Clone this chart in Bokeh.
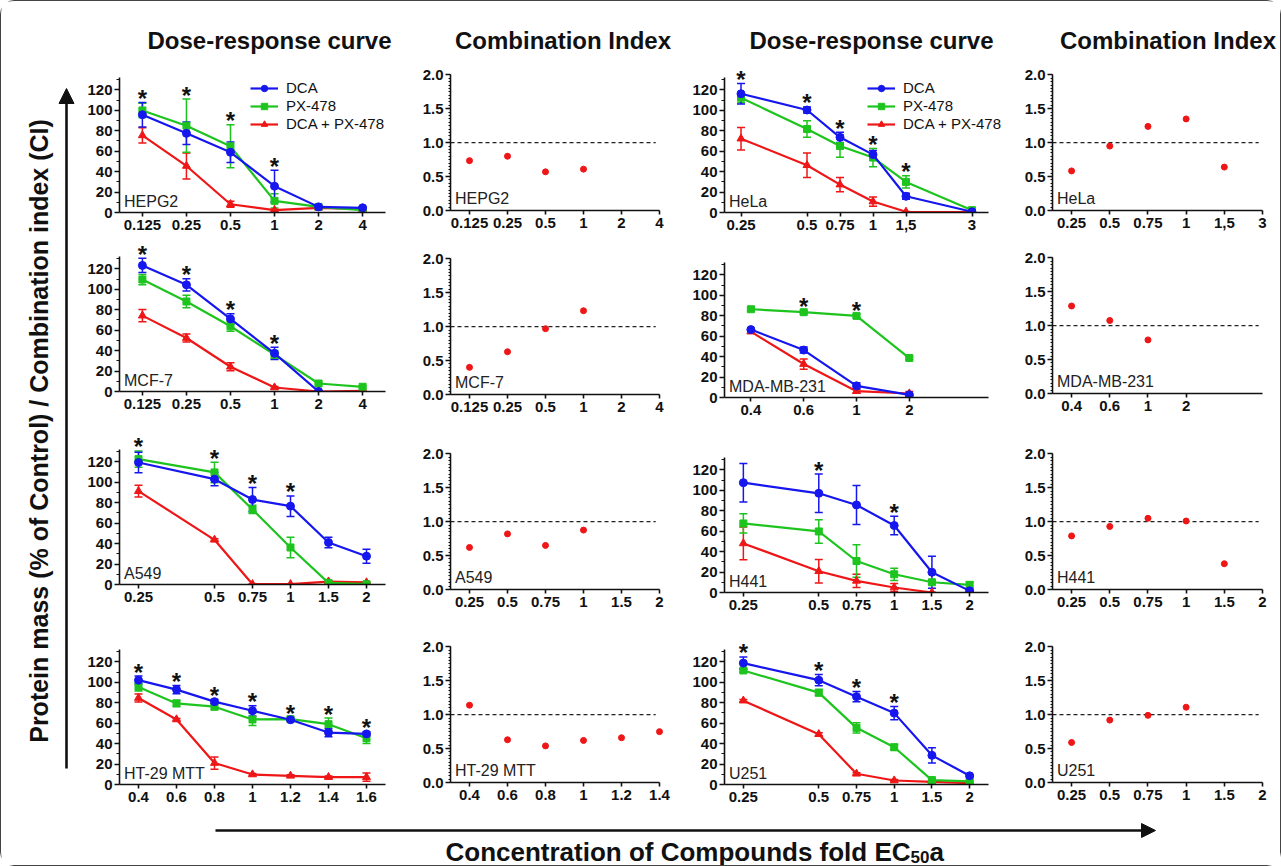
import math
from bokeh.plotting import figure
from bokeh.models import (Range1d, FixedTicker, SingleIntervalTicker, ColumnDataSource,
                          Whisker, TeeHead, Legend, LegendItem, Label, LabelSet,
                          Arrow, NormalHead, PrintfTickFormatter)
from bokeh.layouts import row, column
from bokeh.embed import file_html
from bokeh.resources import INLINE
from bokeh.core.properties import value

FONT = "Liberation Sans"
INK = "#111111"
BLUE = "#1616ee"
GREEN = "#1ec41e"
RED = "#ee1616"

# ------------------------------------------------------------------ data
# Dose-response: mean values and error (SD) per concentration
hepg2_conc = ["0.125", "0.25", "0.5", "1", "2", "4"]
hepg2_dca = [95.6, 77.4, 58.9, 25.7, 5.5, 4.6]
hepg2_dca_err = [12, 11, 10, 15.5, 1, 1]
hepg2_px = [99.8, 84.9, 64.7, 11.4, 5.5, 2.3]
hepg2_px_err = [7, 26, 21, 7, 1, 0.5]
hepg2_combo = [75.4, 45.5, 8.1, 2.3, 4.6, 3.3]
hepg2_combo_err = [7.5, 12.7, 3, 1, 1, 0.5]
hepg2_sig = ["0.125", "0.25", "0.5", "1"]

mcf7_conc = ["0.125", "0.25", "0.5", "1", "2", "4"]
mcf7_dca = [123.3, 104.3, 71, 37.3, 0]
mcf7_dca_err = [7, 6, 5, 6, 0.5]
mcf7_px = [109.5, 88, 63.8, 36, 7.8, 4.6]
mcf7_px_err = [5, 6, 5, 4, 1, 1]
mcf7_combo = [74.2, 52.3, 24.2, 3.9, 0, 0.7]
mcf7_combo_err = [6, 4, 4, 1, 0.3, 0.3]
mcf7_sig = ["0.125", "0.25", "0.5", "1"]

a549_conc = ["0.25", "0.5", "0.75", "1", "1.5", "2"]
a549_dca = [119.3, 103, 83.1, 76.6, 41.1, 27.7]
a549_dca_err = [10, 6.5, 11.7, 10, 5.2, 6.8]
a549_px = [122.6, 109.6, 73.4, 36.2, 1.6, 0.3]
a549_px_err = [8, 10, 4, 10, 0.5, 0.5]
a549_combo = [91.3, 43.7, 0.3, 0.3, 2.9, 2]
a549_combo_err = [5.7, 1, 0.5, 0.5, 0.5, 0.5]
a549_sig = ["0.25", "0.5", "0.75", "1"]

ht29_conc = ["0.4", "0.6", "0.8", "1", "1.2", "1.4", "1.6"]
ht29_dca = [102, 92.8, 81, 72.1, 63.3, 50.8, 49.5]
ht29_dca_err = [4, 4, 2, 5, 1, 4, 2]
ht29_px = [95.4, 79.3, 76.1, 63.6, 63.9, 59, 45.2]
ht29_px_err = [4, 3, 3, 6, 2, 6, 5]
ht29_combo = [84.6, 63.6, 21, 9.8, 8.5, 7.2, 7.2]
ht29_combo_err = [4, 1, 6, 1, 1, 1, 4]
ht29_sig = ["0.4", "0.6", "0.8", "1", "1.2", "1.4", "1.6"]

hela_conc = ["0.25", "0.5", "0.75", "1", "1,5", "3"]
hela_dca = [116.1, 100.2, 73.5, 56.6, 15.9, 0.7]
hela_dca_err = [10, 3, 5, 4, 3, 0.5]
hela_px = [112.2, 81.6, 65, 53.7, 29.9, 2.3]
hela_px_err = [5, 8, 11, 9, 6, 0.5]
hela_combo = [72.2, 46.2, 27.3, 10.7, 0.7, 0.5]
hela_combo_err = [11, 12, 7, 4.5, 0.3, 0.3]
hela_sig = ["0.25", "0.5", "0.75", "1", "1,5"]

mda_conc = ["0.4", "0.6", "1", "2"]
mda_dca = [66.4, 46.4, 11.4, 2.6]
mda_dca_err = [1, 3, 3, 1]
mda_px = [86.3, 83.4, 79.8, 38.6]
mda_px_err = [1.5, 1.5, 1.5, 1.5]
mda_combo = [64.4, 32.7, 6.2, 3.9]
mda_combo_err = [1.5, 5, 2, 2]
mda_sig = ["0.6", "1"]

h441_conc = ["0.25", "0.5", "0.75", "1", "1.5", "2"]
h441_dca = [107.4, 97, 85.6, 65.5, 19.8, 1.6]
h441_dca_err = [18.8, 18.8, 19, 9, 15.7, 1]
h441_px = [67.5, 59.7, 30.8, 17.8, 10, 7.5]
h441_px_err = [9.4, 11.5, 15.9, 6, 2, 3]
h441_combo = [48, 20.8, 11.4, 4.9, 0]
h441_combo_err = [16, 11.4, 6.5, 4, 0.3]
h441_sig = ["0.5", "1"]

u251_conc = ["0.25", "0.5", "0.75", "1", "1.5", "2"]
u251_dca = [118.7, 102, 85.9, 69.8, 28.5, 8.5]
u251_dca_err = [6, 5.5, 5, 6.5, 7.4, 1]
u251_px = [111.5, 89.8, 55.4, 36.4, 4.3, 3]
u251_px_err = [1.5, 3, 5, 3, 1, 1]
u251_combo = [82, 49.2, 10.5, 3.9, 2.6, 1.3]
u251_combo_err = [1, 1.5, 1, 1, 1, 1]
u251_sig = ["0.25", "0.5", "0.75", "1"]

# Category slot of each concentration on the (uneven) x axes
slots_even6 = [0, 1, 2, 3, 4, 5]
slots_even7 = [0, 1, 2, 3, 4, 5, 6]
slots_quarter = [0, 2, 3, 4, 5, 6]
slots_hela = [0, 2, 3, 4, 5, 7]
slots_mda = [0, 1, 2, 3]

# Combination index values
hepg2_ci_conc = ["0.125", "0.25", "0.5", "1", "2", "4"]
hepg2_ci = [0.735, 0.80, 0.57, 0.61]
mcf7_ci_conc = ["0.125", "0.25", "0.5", "1", "2", "4"]
mcf7_ci = [0.40, 0.63, 0.97, 1.235]
a549_ci_conc = ["0.25", "0.5", "0.75", "1", "1.5", "2"]
a549_ci = [0.62, 0.82, 0.65, 0.876]
ht29_ci_conc = ["0.4", "0.6", "0.8", "1", "1.2", "1.4"]
ht29_ci = [1.14, 0.63, 0.54, 0.62, 0.66, 0.75]
hela_ci_conc = ["0.25", "0.5", "0.75", "1", "1,5", "3"]
hela_ci = [0.584, 0.95, 1.24, 1.35, 0.64]
mda_ci_conc = ["0.4", "0.6", "1", "2"]
mda_ci = [1.29, 1.076, 0.79]
h441_ci_conc = ["0.25", "0.5", "0.75", "1", "1.5", "2"]
h441_ci = [0.79, 0.93, 1.05, 1.01, 0.38]
u251_ci_conc = ["0.25", "0.5", "0.75", "1", "1.5", "2"]
u251_ci = [0.59, 0.92, 0.99, 1.11]
CI_ADDITIVE = 1.0   # reference line: CI = 1 (additive effect)

dr_major = [0, 20, 40, 60, 80, 100, 120]
dr_minor = [10, 30, 50, 70, 90, 110, 130]

legend_labels = ["DCA", "PX-478", "DCA + PX-478"]
headers = ["Dose-response curve", "Combination Index", "Dose-response curve", "Combination Index"]
y_title = "Protein  mass (% of Control) / Combination index (CI)"
x_title = "Concentration of Compounds fold EC"

# ------------------------------------------------------------------ helpers
PX_PER_UNIT = 135 / 132      # dose-response vertical scale
CI_FRAME_H = 137


def style_axis(ax, tick_out, standoff):
    ax.axis_line_width = 1.6
    ax.axis_line_color = INK
    ax.major_tick_line_width = 1.6
    ax.major_tick_line_color = INK
    ax.minor_tick_line_color = INK
    ax.minor_tick_line_width = 1
    ax.major_tick_in = 0
    ax.minor_tick_in = 0
    ax.major_tick_out = tick_out
    ax.minor_tick_out = 3
    ax.major_label_standoff = standoff
    ax.major_label_text_font = FONT
    ax.major_label_text_font_style = "bold"
    ax.major_label_text_font_size = "15px"
    ax.major_label_text_color = INK


def base_fig(mbl, fw, mbr, height, mbt, frame_h, xr, yr):
    p = figure(width=mbl + fw + mbr, height=height, title=None,
               x_range=Range1d(*xr), y_range=Range1d(*yr),
               output_backend="svg", toolbar_location=None, frame_align=False,
               min_border_left=mbl, min_border_right=mbr,
               min_border_top=mbt, min_border_bottom=height - mbt - frame_h)
    p.outline_line_color = None
    p.xgrid.visible = False
    p.ygrid.visible = False
    style_axis(p.xaxis[0], 4, 3)
    style_axis(p.yaxis[0], 5, 2)
    return p


def dr_panel(name, conc, slots, xr, dca, dca_e, px, px_e, cb, cb_e, sig,
             geom, height, mbt, frame_h, legend_loc=None):
    mbl, fw, extra = geom
    # frame is widened by `extra` px on the right (room for the legend text);
    # the axis lines stay within the drawn extent of the original via bounds
    xend = xr[1] + extra * (xr[1] - xr[0]) / fw
    ytop = frame_h / PX_PER_UNIT
    p = base_fig(mbl, fw + extra, 0, height, mbt, frame_h, (xr[0], xend), (0, ytop))
    p.xaxis.ticker = FixedTicker(ticks=slots)
    p.xaxis.major_label_overrides = {s: c for s, c in zip(slots, conc)}
    p.xaxis.bounds = xr
    p.yaxis.ticker = FixedTicker(ticks=dr_major, minor_ticks=dr_minor)
    p.yaxis.bounds = (0, 132)

    series = [(legend_labels[2], cb, cb_e, RED, "triangle", 8),
              (legend_labels[1], px, px_e, GREEN, "square", 7),
              (legend_labels[0], dca, dca_e, BLUE, "circle", 8)]
    items = {}
    for lab, vals, errs, col, mk, sz in series:
        n = len(vals)
        src = ColumnDataSource(dict(x=slots[:n], y=vals,
                                    up=[v + e for v, e in zip(vals, errs)],
                                    lo=[v - e for v, e in zip(vals, errs)]))
        p.add_layout(Whisker(source=src, base="x", upper="up", lower="lo",
                             line_color=col, line_width=1.5,
                             upper_head=TeeHead(size=8, line_color=col, line_width=1.5),
                             lower_head=TeeHead(size=8, line_color=col, line_width=1.5)))
        lr = p.line("x", "y", source=src, line_color=col, line_width=2.2)
        sr = p.scatter("x", "y", source=src, marker=mk, size=sz,
                       fill_color=col, line_color=col)
        items[lab] = LegendItem(label=lab, renderers=[lr, sr])

    # significance stars above the highest error bar
    sx, sy = [], []
    for c in sig:
        i = conc.index(c)
        tops = [v[i] + e[i] for v, e in ((dca, dca_e), (px, px_e), (cb, cb_e)) if i < len(v)]
        sx.append(slots[i])
        sy.append(max(tops))
    ssrc = ColumnDataSource(dict(x=sx, y=sy, t=["*"] * len(sx)))
    p.add_layout(LabelSet(x="x", y="y", text="t", source=ssrc, y_offset=4,
                          text_align="center", text_baseline="middle",
                          text_font=value(FONT), text_font_style="bold",
                          text_font_size="24px", text_color=INK))

    p.add_layout(Label(x=xr[0], y=0, x_offset=4.5, y_offset=11, text=name,
                       text_font=FONT, text_font_size="16px", text_color="#222222",
                       text_baseline="middle"))

    if legend_loc is not None:
        lg = Legend(items=[items[l] for l in legend_labels], location=legend_loc,
                    label_text_font=FONT, label_text_font_size="15px",
                    label_text_color=INK, glyph_width=28, glyph_height=16,
                    label_height=16, spacing=1, padding=0, margin=0,
                    label_standoff=8, border_line_color=None,
                    background_fill_alpha=0)
        p.add_layout(lg)
    return p


def ci_panel(name, conc, vals, geom, height, mbt):
    mbl, fw, mbr = geom
    extra = 8   # frame slightly wider than the axis so the last dot is not clipped
    xr = (-0.5, 5)
    xend = xr[1] + extra * (xr[1] - xr[0]) / fw
    p = base_fig(mbl, fw + extra, mbr - extra, height, mbt, CI_FRAME_H,
                 (xr[0], xend), (0, 2.02))
    slots = list(range(len(conc)))
    p.xaxis.ticker = FixedTicker(ticks=slots)
    p.xaxis.major_label_overrides = {s: c for s, c in zip(slots, conc)}
    p.xaxis.bounds = xr
    p.yaxis.ticker = SingleIntervalTicker(interval=0.5, num_minor_ticks=10)
    p.yaxis.formatter = PrintfTickFormatter(format="%.1f")
    p.yaxis.bounds = (0, 2.0)
    p.yaxis.minor_tick_out = 2
    p.segment(x0=[xr[0]], y0=[CI_ADDITIVE], x1=[xr[1] - 0.1], y1=[CI_ADDITIVE],
              line_color="#222222", line_width=1.3, line_dash="4 3")
    p.scatter(slots[:len(vals)], vals, marker="circle", size=6,
              fill_color=RED, line_color=RED)
    p.add_layout(Label(x=xr[0], y=0, x_offset=4.5, y_offset=12, text=name,
                       text_font=FONT, text_font_size="16px", text_color="#222222",
                       text_baseline="middle"))
    return p


G1 = (44, 266, 20)   # col 1 dose-response: left border, axis width, extra right
G2 = (45, 209, 21)   # col 2 CI: left border, axis width, right border
G3 = (44, 264, 20)   # col 3 dose-response
G4 = (44, 210, 18)   # col 4 CI
X6 = (-0.52, 5.52)
X7 = (-0.5, 6.5)

H1, H2, H3, H4 = 175, 195, 193, 197

r1 = row(
    dr_panel("HEPG2", hepg2_conc, slots_even6, X6, hepg2_dca, hepg2_dca_err, hepg2_px,
             hepg2_px_err, hepg2_combo, hepg2_combo_err, hepg2_sig, G1, H1, 15, 135,
             legend_loc=(131, 80)),
    ci_panel("HEPG2", hepg2_ci_conc, hepg2_ci, G2, H1, 11),
    dr_panel("HeLa", hela_conc, slots_hela, (-0.5, 7.5), hela_dca, hela_dca_err, hela_px,
             hela_px_err, hela_combo, hela_combo_err, hela_sig, G3, H1, 7, 143,
             legend_loc=(143, 80)),
    ci_panel("HeLa", hela_ci_conc, hela_ci, G4, H1, 11),
)
r2 = row(
    dr_panel("MCF-7", mcf7_conc, slots_even6, X6, mcf7_dca, mcf7_dca_err, mcf7_px,
             mcf7_px_err, mcf7_combo, mcf7_combo_err, mcf7_sig, G1, H2, 0, 154),
    ci_panel("MCF-7", mcf7_ci_conc, mcf7_ci, G2, H2, 20),
    dr_panel("MDA-MB-231", mda_conc, slots_mda, (-0.5, 4.5), mda_dca, mda_dca_err, mda_px,
             mda_px_err, mda_combo, mda_combo_err, mda_sig, G3, H2, 25, 135),
    ci_panel("MDA-MB-231", mda_ci_conc, mda_ci, G4, H2, 19),
)
r3 = row(
    dr_panel("A549", a549_conc, slots_quarter, X7, a549_dca, a549_dca_err, a549_px,
             a549_px_err, a549_combo, a549_combo_err, a549_sig, G1, H3, 5, 147),
    ci_panel("A549", a549_ci_conc, a549_ci, G2, H3, 20),
    dr_panel("H441", h441_conc, slots_quarter, X7, h441_dca, h441_dca_err, h441_px,
             h441_px_err, h441_combo, h441_combo_err, h441_sig, G3, H3, 25, 135),
    ci_panel("H441", h441_ci_conc, h441_ci, G4, H3, 20),
)
r4 = row(
    dr_panel("HT-29 MTT", ht29_conc, slots_even7, X7, ht29_dca, ht29_dca_err, ht29_px,
             ht29_px_err, ht29_combo, ht29_combo_err, ht29_sig, G1, H4, 24, 135),
    ci_panel("HT-29 MTT", ht29_ci_conc, ht29_ci, G2, H4, 20),
    dr_panel("U251", u251_conc, slots_quarter, X7, u251_dca, u251_dca_err, u251_px,
             u251_px_err, u251_combo, u251_combo_err, u251_sig, G3, H4, 18, 141),
    ci_panel("U251", u251_ci_conc, u251_ci, G4, H4, 20),
)

W = 1279
LEFT_W = 74


def deco_fig(w, h):
    p = figure(width=w, height=h, x_range=Range1d(0, w), y_range=Range1d(0, h),
               output_backend="svg", toolbar_location=None, title=None,
               frame_align=False, x_axis_location=None, y_axis_location=None,
               min_border_left=0, min_border_right=0, min_border_top=0, min_border_bottom=0)
    p.outline_line_color = None
    p.xgrid.visible = False
    p.ygrid.visible = False
    return p


# header titles
hdr = deco_fig(W, 61)
hdr.text(x=[268, 561.5, 870, 1166.5], y=[22] * 4, text=headers,
         text_font=value(FONT), text_font_style="bold", text_font_size="24px",
         text_align="center", text_baseline="middle", text_color=INK)

# left strip: y title and vertical arrow
left = deco_fig(LEFT_W, 760)
left.add_layout(Arrow(end=NormalHead(size=15, fill_color=INK, line_color=INK),
                      x_start=65, y_start=54, x_end=65, y_end=734,
                      line_width=2.6, line_color=INK))
left.text(x=[37], y=[395], text=[y_title], angle=math.pi / 2,
          text_font=value(FONT), text_font_style="bold", text_font_size="25px",
          text_align="center", text_baseline="middle", text_color=INK)

# bottom strip: horizontal arrow and x title with subscript
bot = deco_fig(W, 43)
bot.add_layout(Arrow(end=NormalHead(size=14, fill_color=INK, line_color=INK),
                     x_start=214, y_start=35, x_end=1154, y_end=35,
                     line_width=2.6, line_color=INK))
bot.text(x=[444], y=[14], text=[x_title], text_font=value(FONT),
         text_font_style="bold", text_font_size="26px", text_align="left",
         text_baseline="middle", text_color=INK)
bot.text(x=[909.1], y=[9], text=["50"], text_font=value(FONT),
         text_font_style="bold", text_font_size="17px", text_align="left",
         text_baseline="middle", text_color=INK)
bot.text(x=[928], y=[14], text=["a"], text_font=value(FONT),
         text_font_style="bold", text_font_size="26px", text_align="left",
         text_baseline="middle", text_color=INK)

layout = column(hdr, row(left, column(r1, r2, r3, r4)), bot,
                styles={"border": "1px solid #444444", "border-radius": "14px"})

open("out.html", "w").write(file_html(layout, INLINE))
